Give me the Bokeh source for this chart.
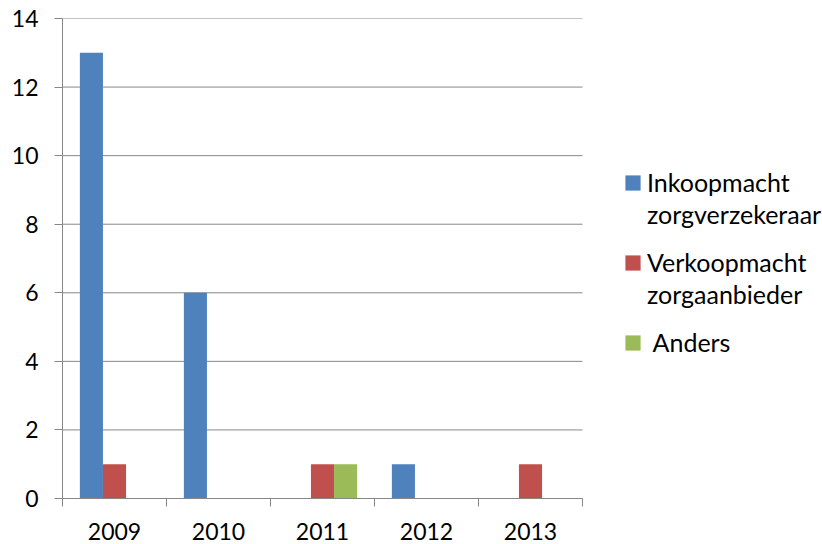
from bokeh.plotting import figure
from bokeh.models import ColumnDataSource, Range1d, FixedTicker, Legend, LegendItem
from bokeh.embed import file_html
from bokeh.resources import INLINE

years = ["2009", "2010", "2011", "2012", "2013"]
inkoop = [13, 6, 0, 1, 0]
verkoop = [1, 0, 1, 0, 1]
anders = [0, 0, 1, 0, 0]
series_labels = [["Inkoopmacht", "zorgverzekeraar"], ["Verkoopmacht", "zorgaanbieder"], [" Anders"]]
colors = ["#4F81BD", "#C0504D", "#9BBB59"]
y_ticks = [0, 2, 4, 6, 8, 10, 12, 14]

FONT = "Lato"
GRAY = "#878787"
FS = "23px"

n = len(years)
# frame spans the plot area plus the legend area to its right
x_end = n * 760 / 520

p = figure(width=822, height=544, output_backend="svg", toolbar_location=None,
           x_range=Range1d(0, x_end), y_range=Range1d(0, 14),
           min_border_left=62, min_border_right=0, min_border_top=18, min_border_bottom=46)
p.outline_line_color = None
p.background_fill_color = "white"
p.border_fill_color = "white"
p.xgrid.grid_line_color = None
p.ygrid.grid_line_color = None

# horizontal gridlines over the plot area only
p.segment(x0=[0] * len(y_ticks), x1=[n] * len(y_ticks), y0=y_ticks, y1=y_ticks,
          line_color=GRAY, line_width=1)

bw = 0.222
offsets = [-bw, 0, bw]
renderers = []
for vals, off, col in zip([inkoop, verkoop, anders], offsets, colors):
    xs = [i + 0.5 + off for i, v in enumerate(vals) if v > 0]
    tops = [v for v in vals if v > 0]
    src = ColumnDataSource(dict(x=xs, top=tops))
    r = p.vbar(x="x", top="top", width=bw, bottom=0, source=src,
               fill_color=col, line_color=None)
    renderers.append(r)

# invisible renderer for continuation lines of wrapped legend labels
blank = p.vbar(x=[], top=[], width=bw, fill_color=None, line_color=None)

# axes
p.yaxis.ticker = FixedTicker(ticks=y_ticks)
p.yaxis.axis_line_color = GRAY
p.yaxis.major_tick_line_color = GRAY
p.yaxis.major_tick_out = 8
p.yaxis.major_tick_in = 0
p.yaxis.minor_tick_line_color = None
p.yaxis.major_label_text_font = FONT
p.yaxis.major_label_text_font_size = FS
p.yaxis.major_label_text_color = "black"
p.yaxis.major_label_standoff = 16

p.xaxis.bounds = (0, n)
p.xaxis.ticker = FixedTicker(ticks=[i + 0.5 for i in range(n)],
                             minor_ticks=list(range(n + 1)))
p.xaxis.major_label_overrides = {i + 0.5: y for i, y in enumerate(years)}
p.xaxis.axis_line_color = GRAY
p.xaxis.major_tick_line_color = None
p.xaxis.major_tick_out = 0
p.xaxis.major_tick_in = 0
p.xaxis.minor_tick_line_color = GRAY
p.xaxis.minor_tick_out = 8
p.xaxis.minor_tick_in = 0
p.xaxis.major_label_text_font = FONT
p.xaxis.major_label_text_font_size = FS
p.xaxis.major_label_text_color = "black"
p.xaxis.major_label_standoff = 16

legend_y = [268, 188, 140]
for lines, r, ly in zip(series_labels, renderers, legend_y):
    items = [LegendItem(label=lines[0], renderers=[r])]
    items += [LegendItem(label=t, renderers=[blank]) for t in lines[1:]]
    legend = Legend(items=items, location=(561, ly), orientation="vertical",
                    label_text_font=FONT, label_text_font_size="25px",
                    label_text_color="black", label_height=32,
                    glyph_width=19, glyph_height=19, label_standoff=5,
                    spacing=0, padding=0, margin=0,
                    border_line_color=None, background_fill_alpha=0)
    p.add_layout(legend, "center")

open("out.html", "w").write(file_html(p, INLINE))
